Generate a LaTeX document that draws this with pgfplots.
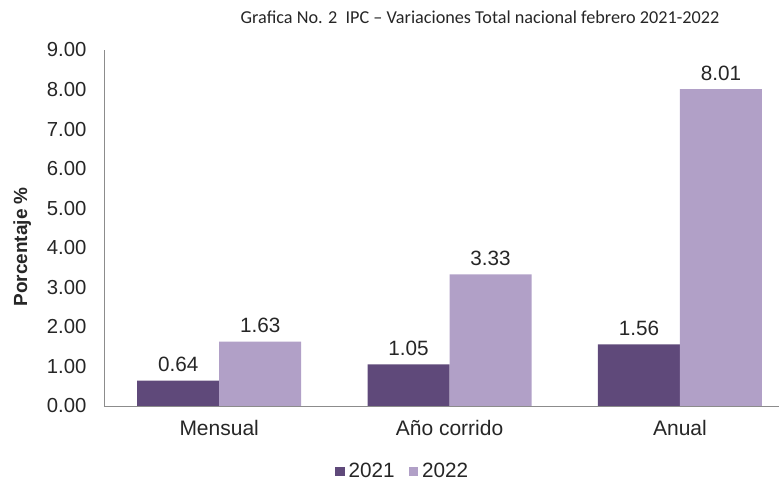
\documentclass[border=0pt]{standalone}
\usepackage{pgfplots}
\pgfplotsset{compat=1.18}
\usepackage{fontspec}
\setmainfont{Liberation Sans}
\newfontfamily\titlefont{Carlito}
\definecolor{dark}{HTML}{5F497A}
\definecolor{light}{HTML}{B1A0C7}
\definecolor{txt}{HTML}{262626}
\definecolor{axl}{HTML}{8C8C8C}
\begin{document}
\begin{tikzpicture}[x=1pt,y=1pt]
\useasboundingbox (-104,-75) rectangle (675,406);
\begin{axis}[
  at={(0,0)}, anchor=south west,
  scale only axis, width=675pt, height=356pt,
  xmin=-0.5, xmax=2.43, ymin=0, ymax=9,
  ybar=0pt, bar width=82pt,
  axis x line*=bottom, axis y line*=left,
  axis line style={axl, line width=0.8pt, -},
  xtick={0,1,2}, xticklabels={Mensual, Año corrido, Anual},
  ytick={0,1,...,9},
  major tick length=0pt,
  /pgf/number format/assume math mode=true,
  ticklabel style={text=txt},
  yticklabel style={font=\fontsize{20.3}{23}\selectfont, /pgf/number format/fixed, /pgf/number format/fixed zerofill, /pgf/number format/precision=2, xshift=-14pt},
  xticklabel style={font=\fontsize{21}{24}\selectfont, yshift=-11pt},
  ylabel={\textbf{Porcentaje \%}},
  ylabel style={at={(axis description cs:-0.121,0.447)}, anchor=center, font=\fontsize{19}{22}\selectfont, text=txt},
  title={\titlefont Grafica No. 2\ \ IPC – Variaciones Total nacional febrero 2021-2022},
  title style={at={(axis description cs:0.557,1.075)}, anchor=center, font=\fontsize{18.2}{21}\selectfont, text=txt},
  nodes near coords,
  nodes near coords style={font=\fontsize{20.7}{24}\selectfont, text=txt, yshift=5pt,
    /pgf/number format/fixed, /pgf/number format/fixed zerofill, /pgf/number format/precision=2},
  legend style={at={(axis description cs:0.444,-0.183)}, anchor=center, draw=none, fill=none,
    legend columns=2, font=\fontsize{20.7}{24}\selectfont, text=txt,
    /tikz/every even column/.append style={column sep=10pt},
    nodes={inner xsep=4pt}},
  legend image code/.code={\fill[#1] (0pt,-5pt) rectangle (9.5pt,4.5pt);},
]
\addplot[fill=dark, draw=none] coordinates {(0,0.64) (1,1.05) (2,1.56)};
\addplot[fill=light, draw=none] coordinates {(0,1.63) (1,3.33) (2,8.01)};
\legend{2021, 2022}
\end{axis}
\end{tikzpicture}
\end{document}
